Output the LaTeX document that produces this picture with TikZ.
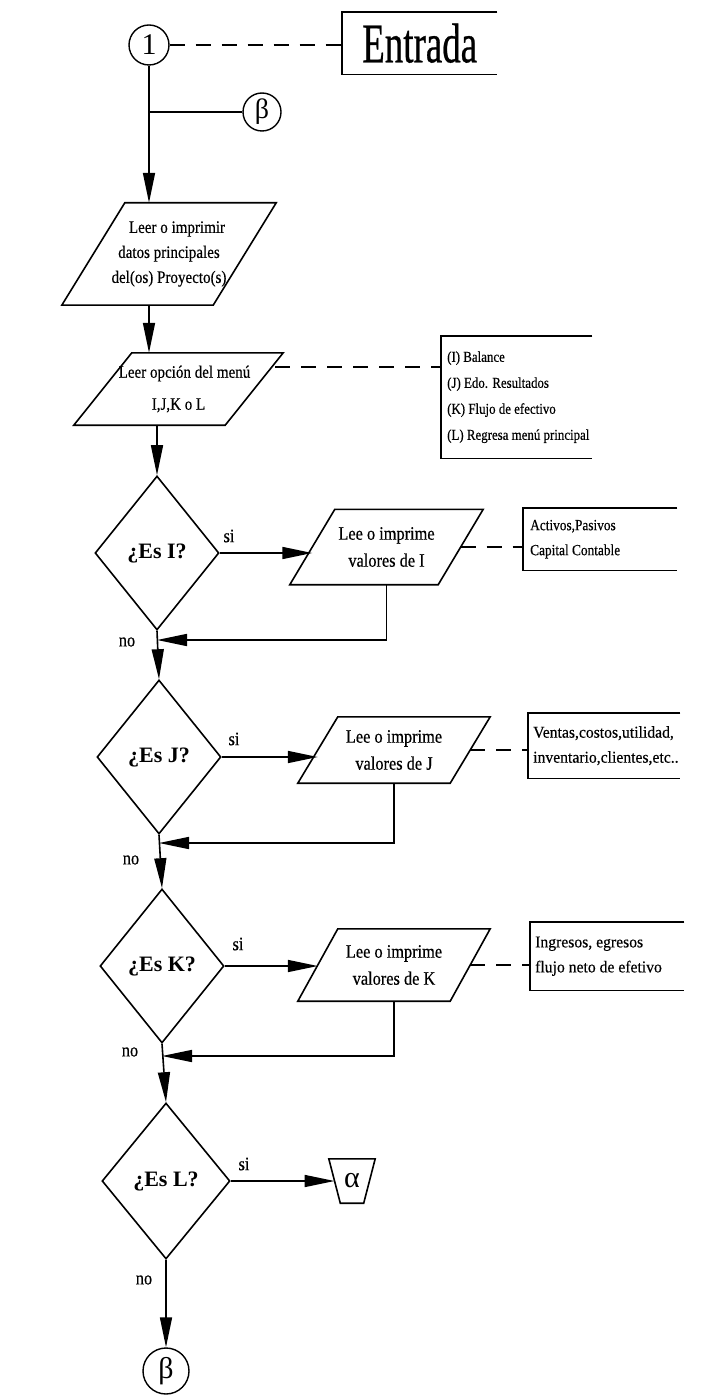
\documentclass[tikz,border=0pt]{standalone}
\usepackage{fontspec}
\setmainfont{Liberation Serif}
\newfontfamily\narrowfont[FakeStretch=0.86,FakeBold=0.4]{Liberation Serif}
\newfontfamily\wideenough[FakeStretch=0.95,FakeBold=0.4]{Liberation Serif}
\newfontfamily\titlefont[FakeStretch=0.66,FakeBold=0.5]{Liberation Serif}
\usetikzlibrary{arrows.meta,shapes.geometric}

% slanted input/output box drawn around a rectangular node (#2 = half the slant)
\newcommand{\iobox}[2]{\draw[ln] ([xshift=#2]#1.north west) -- ([xshift=#2]#1.north east)
  -- ([xshift=-#2]#1.south east) -- ([xshift=-#2]#1.south west) -- cycle;}
% comment bracket: open on the right side
\newcommand{\openbox}[1]{\draw[ln] (#1.north east) -- (#1.north west) -- (#1.south west) -- (#1.south east);}
% off-page connector: wider at the top
\newcommand{\cupbox}[2]{\draw[ln] ([xshift=-#2]#1.north west) -- ([xshift=#2]#1.north east)
  -- ([xshift=-#2]#1.south east) -- ([xshift=#2]#1.south west) -- cycle;}

\tikzset{
  ln/.style={line width=1.6pt},
  arr/.style={ln, -{Triangle[length=30pt,width=12pt]}},
  dsh/.style={line width=1.3pt, dash pattern=on 15pt off 11pt},
  conn/.style={circle, draw, line width=1.4pt, minimum size=40pt, inner sep=0pt,
    font=\fontsize{30}{30}\selectfont},
  io/.style={inner sep=0pt, align=center, font=\narrowfont\fontsize{19}{25}\selectfont},
  dec/.style={diamond, draw, line width=1.6pt, inner sep=0pt, minimum width=124pt,
    minimum height=154pt, font=\bfseries\fontsize{22}{22}\selectfont},
  frame/.style={inner sep=0pt, anchor=north west},
  note/.style={inner sep=0pt, align=left, anchor=west,
    font=\narrowfont\fontsize{15}{26}\selectfont},
  lbl/.style={inner sep=0pt, font=\narrowfont\fontsize{19}{19}\selectfont}
}

\begin{document}
\begin{tikzpicture}[x=1pt,y=-1pt]
\useasboundingbox (0,0) rectangle (706,1396);
\fill[white] (0,0) rectangle (706,1396);

% entry
\node[conn] (c1) at (149,45) {1};
\node[frame, minimum width=155pt, minimum height=62pt,
  font=\titlefont\fontsize{56}{56}\selectfont] (ent) at (342,12) {Entrada};
\openbox{ent}
\draw[dsh] (c1.east) -- (c1.east -| ent.west);

\node[conn, minimum size=38pt, font=\fontsize{28}{28}\selectfont] (b1) at (262,112) {β};
\coordinate (j1) at (149,112);
\draw[ln] (j1) -- (b1.west);

% main data
\node[io, minimum width=151pt, minimum height=102pt,
  font=\narrowfont\fontsize{17.5}{25}\selectfont] (p1) at (169,254)
  {\hspace*{16pt}Leer o imprimir\\datos principales\\del(os) Proyecto(s)};
\iobox{p1}{31.5}
\draw[arr] (c1.south) -- (c1.south |- p1.north);

% menu choice
\node[io, minimum width=151pt, minimum height=72pt,
  font=\narrowfont\fontsize{17.5}{32}\selectfont] (p2) at (178.5,389)
  {\hspace*{12pt}Leer opción del menú\\I,J,K o L};
\iobox{p2}{29}
\draw[arr] (c1.south |- p1.south) -- (c1.south |- p2.north);

\node[frame, minimum width=151pt, minimum height=122pt] (bal) at (441,336) {};
\openbox{bal}
\node[note] (baltxt) at ([xshift=6pt]bal.west)
  {(I) Balance\\(J) Edo. Resultados\\(K) Flujo de efectivo\\(L) Regresa menú principal};
\coordinate (p2r) at (275,367);
\draw[dsh] (p2r) -- (p2r -| bal.west);

% option I
\node[dec] (d1) at (157,553) {¿Es I?};
\draw[arr] (d1.north |- p2.south) -- (d1.north);
\node[io, minimum width=148pt, minimum height=75pt,
  font=\narrowfont\fontsize{19}{27}\selectfont] (pi) at (386.5,547)
  {Lee o imprime\\valores de I};
\iobox{pi}{22.5}
\draw[arr] (d1.east) -- (d1.east -| pi.west);
\node[lbl] (si1) at (229,536) {si};
\node[frame, minimum width=154pt, minimum height=62pt] (act) at (523,508) {};
\openbox{act}
\node[note, font=\narrowfont\fontsize{15.5}{25}\selectfont] (acttxt) at ([xshift=7pt]act.west)
  {Activos,Pasivos\\Capital Contable};
\draw[dsh] (pi.east) -- (pi.east -| act.west);
\coordinate (r1) at (157,640);
\draw[arr] (pi.south) |- (r1);
\node[lbl] (no1) at (127,642) {no};

% option J
\node[dec] (d2) at (159,757) {¿Es J?};
\draw[arr] (d1.south) -- (d2.north);
\node[io, minimum width=152pt, minimum height=66pt,
  font=\narrowfont\fontsize{19}{27}\selectfont] (pj) at (394,750)
  {Lee o imprime\\valores de J};
\iobox{pj}{20}
\draw[arr] (d2.east) -- (d2.east -| pj.west);
\node[lbl] (si2) at (234,739) {si};
\node[frame, minimum width=152pt, minimum height=65pt] (ven) at (528,713) {};
\openbox{ven}
\node[note, font=\wideenough\fontsize{16.5}{25}\selectfont] (ventxt) at ([xshift=5pt]ven.west)
  {Ventas,costos,utilidad,\\inventario,clientes,etc..};
\draw[dsh] (pj.east) -- (pj.east -| ven.west);
\coordinate (r2) at (159,843);
\draw[arr] (pj.south) |- (r2);
\node[lbl] (no2) at (131,860) {no};

% option K
\node[dec] (d3) at (162,966) {¿Es K?};
\draw[arr] (d2.south) -- (d3.north);
\node[io, minimum width=152pt, minimum height=72pt,
  font=\narrowfont\fontsize{19}{27}\selectfont] (pk) at (394,965)
  {Lee o imprime\\valores de K};
\iobox{pk}{20}
\draw[arr] (d3.east) -- (d3.east -| pk.west);
\node[lbl] (si3) at (238,944) {si};
\node[frame, minimum width=154pt, minimum height=68pt] (ing) at (530,922) {};
\openbox{ing}
\node[note, font=\wideenough\fontsize{16.5}{25}\selectfont] (ingtxt) at ([xshift=5pt]ing.west)
  {Ingresos, egresos\\flujo neto de efetivo};
\draw[dsh] (pk.east) -- (pk.east -| ing.west);
\coordinate (r3) at (162,1056);
\draw[arr] (pk.south) |- (r3);
\node[lbl] (no3) at (130,1052) {no};

% option L
\node[dec, minimum width=128pt, minimum height=156pt] (d4) at (166,1181) {¿Es L?};
\draw[arr] (d3.south) -- (d4.north);
\node[inner sep=0pt, minimum width=34.5pt, minimum height=44pt,
  font=\fontsize{30}{30}\selectfont] (al) at (352,1181) {α};
\cupbox{al}{5.75}
\draw[arr] (d4.east) -- (al.west);
\node[lbl] (si4) at (244,1164) {si};
\node[lbl] (no4) at (144,1280) {no};
\node[conn, minimum size=46pt, font=\fontsize{30}{30}\selectfont] (b2) at (166,1371) {β};
\draw[arr] (d4.south) -- (b2.north);
\end{tikzpicture}
\end{document}
